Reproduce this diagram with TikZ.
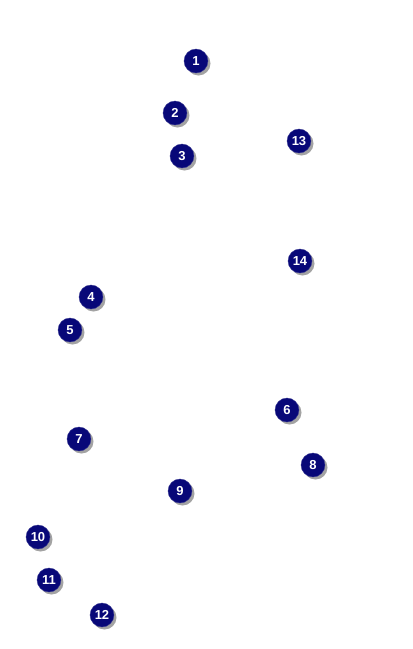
\documentclass[tikz,border=0pt]{standalone}
\usepackage{fontspec}
\setsansfont{Liberation Sans}
\usetikzlibrary{shadows}
\definecolor{markerblue}{RGB}{8,8,120}

\begin{document}
\begin{tikzpicture}[
      x=1pt, y=-1pt,
      font=\sffamily\bfseries,
      marker/.style={
        circle,
        fill=markerblue,
        draw=markerblue!80!white,
        line width=0.4pt,
        minimum size=24pt,
        inner sep=0pt,
        text=white,
        font=\sffamily\bfseries\fontsize{13}{13}\selectfont,
        drop shadow={shadow xshift=2.5pt, shadow yshift=-2.5pt, fill=black!45, opacity=0.8}
      }
    ]
    \useasboundingbox (0,0) rectangle (413,649);

    % Upper markers
    \node[marker] (m1) at (196,61) {1};
    \node[marker] (m2) at (175,113) {2};
    \node[marker] (m3) at (182,156) {3};
    \node[marker] (m13) at (299,141) {13};
    \node[marker] (m14) at (300,261) {14};

    % Middle markers
    \node[marker] (m4) at (91,297) {4};
    \node[marker] (m5) at (70,330) {5};
    \node[marker] (m6) at (287,410) {6};
    \node[marker] (m7) at (79,439) {7};
    \node[marker] (m8) at (313,465) {8};
    \node[marker] (m9) at (180,491) {9};

    % Lower markers
    \node[marker] (m10) at (38,537) {10};
    \node[marker] (m11) at (49,580) {11};
    \node[marker] (m12) at (102,615) {12};

  \end{tikzpicture}
\end{document}
